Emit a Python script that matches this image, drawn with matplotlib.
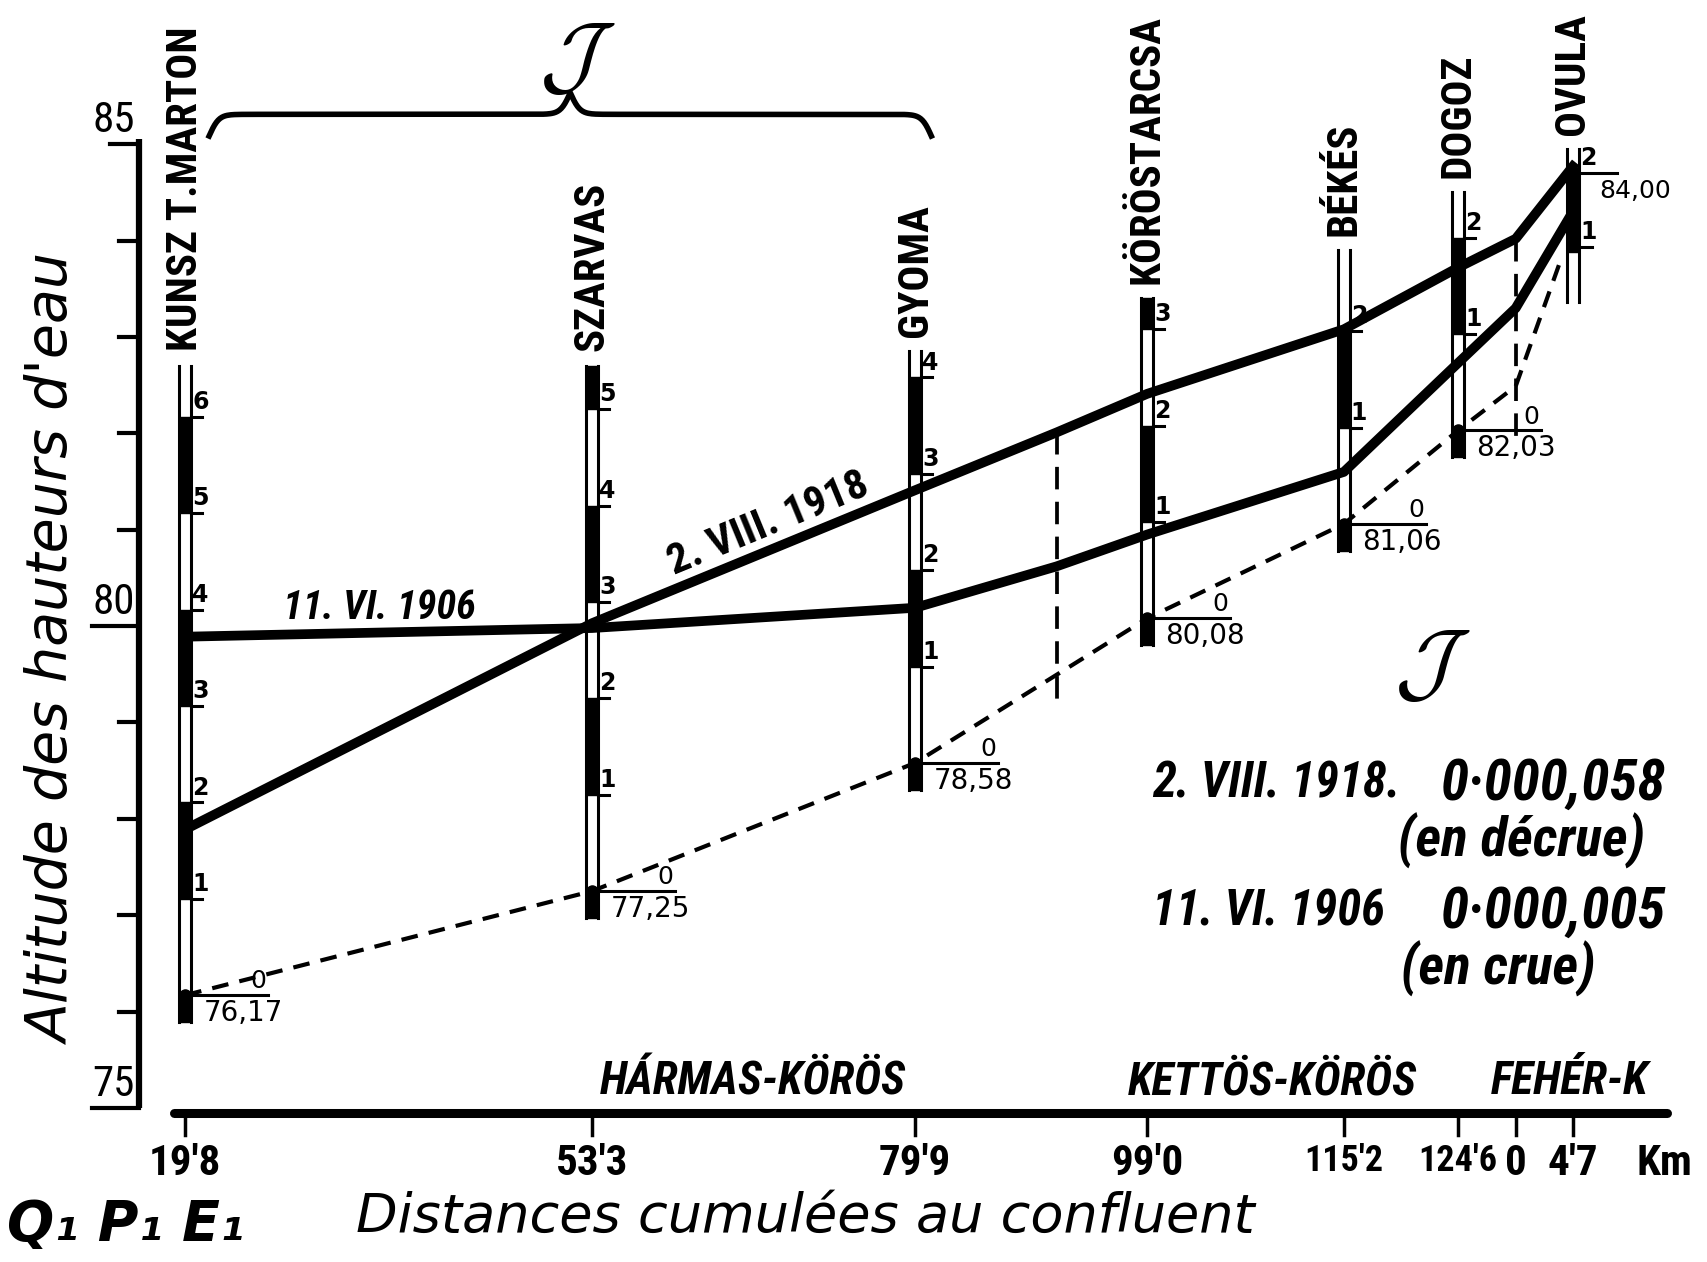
import numpy as np
import matplotlib
matplotlib.use('Agg')
import matplotlib.pyplot as plt
from matplotlib import font_manager as fm

plt.rcParams['font.family'] = ['DejaVu Sans']
plt.rcParams['mathtext.fontset'] = 'cm'

# look for a narrow sans for the lettering of the plate
_names = {f.name for f in fm.fontManager.ttflist}
_narrow = [n for n in sorted(_names) if 'Narrow' in n or 'Condensed' in n]
_pref = ['Liberation Sans Narrow', 'Roboto Condensed', 'DejaVu Sans Condensed',
         'Open Sans Condensed', 'Noto Sans Condensed']
_pick = [n for n in _pref if n in _names] + _narrow
NARROW = [_pick[0], 'DejaVu Sans'] if _pick else ['DejaVu Sans']
NS = 1.0 if _pick else 0.8   # shrink text if no narrow face exists

# gauges along the Körös, distances cumulated from the confluence (km)
stations = ['KUNSZ T.MARTON', 'SZARVAS', 'GYOMA', 'KÖRÖSTARCSA', 'BÉKÉS', 'DOGOZ', 'OVULA']
station_km = [19.8, 53.3, 79.9, 99.0, 115.2, 124.6, 134.05]
gauge_zero = [76.17, 77.25, 78.58, 80.08, 81.06, 82.03]
zero_labels = ['76,17', '77,25', '78,58', '80,08', '81,06', '82,03']
gauge_marks = [6, 5, 4, 3, 2, 2]
gauge_top = [82.7, 82.7, 82.85, 83.4, 83.9, 84.5]
# Ovula gauge (Fehér-Körös), drawn apart
ovula_bottom, ovula_top = 83.36, 84.95
ovula_marks = [83.93, 84.70]
ovula_ref = '84,00'

# water surface profiles
profile_km = [19.8, 53.3, 79.9, 91.55, 99.0, 115.2, 124.6, 129.35, 134.05]
level_1918 = [77.89, 80.03, 81.41, 82.01, 82.41, 83.08, 83.72, 84.02, 84.77]
level_1906 = [79.89, 79.98, 80.19, 80.62, 80.95, 81.60, 82.73, 83.30, 84.30]
# line through the gauge zeros
zero_km = [19.8, 53.3, 79.9, 99.0, 115.2, 124.6, 129.35, 133.2]
zero_line = [76.17, 77.25, 78.58, 80.08, 81.06, 82.03, 82.49, 83.85]
# vertical dashed separations
split_km = [91.55, 129.35]
split_top = [82.01, 84.02]
split_bottom = [79.18, 81.97]

xtick_km = [19.8, 53.3, 79.9, 99.0, 115.2, 124.6, 129.35, 134.05]
xtick_labels = ["19'8", "53'3", "79'9", "99'0", "115'2", "124'6", "0", "4'7"]
rivers = ['HÁRMAS-KÖRÖS', 'KETTÖS-KÖRÖS', 'FEHÉR-K']
river_km = [66.5, 109.3, 133.8]
yticks = list(range(75, 86))
ylabels = {75: '75', 80: '80', 85: '85'}

slopes = [('2. VIII. 1918.', '0·000,058', '(en décrue)'),
          ('11. VI. 1906', '0·000,005', '(en crue)')]


def px(x, y):
    # position read on the picture -> data coordinates
    return 19.8 + (x - 170) / 11.15, 80 - (y - 575) / 88.5


fig = plt.figure(figsize=(17.08, 12.62), dpi=100)
ax = fig.add_axes([0, 0, 1, 1])
ax.set_xlim(px(0, 0)[0], px(1568, 0)[0])
ax.set_ylim(px(0, 1159)[1], px(0, 0)[1])
ax.axis('off')

# y axis
yx = px(128, 0)[0]
ax.plot([yx, yx], [75.0, 85.05], color='k', lw=4.5, solid_capstyle='butt')
for t in yticks:
    ln = 3.9 if t in (80, 75) else (2.4 if t == 85 else 1.7)
    ax.plot([yx - ln, yx], [t, t], color='k', lw=3)
    if t in ylabels:
        ax.text(yx - 0.4, t + 0.03, ylabels[t], ha='right', va='bottom',
                fontsize=31 * NS, family=NARROW)
ax.text(*px(50, 597), "Altitude des hauteurs d'eau", rotation=90, ha='center',
        va='center', fontsize=41, style='italic')

# x axis
ax.plot([px(160, 0)[0], px(1530, 0)[0]], [74.95, 74.95], color='k', lw=6.5,
        solid_capstyle='round')
for k, lab in zip(xtick_km, xtick_labels):
    ax.plot([k, k], [74.95, 74.72], color='k', lw=2.5)
    ax.text(k, 74.64, lab, ha='center', va='top', fontsize=(26 if len(lab) > 4 else 31) * NS,
            weight='bold', family=NARROW)
ax.text(px(1528, 0)[0], 74.64, 'Km', ha='center', va='top', fontsize=31 * NS,
        weight='bold', family=NARROW)
for r, k in zip(rivers, river_km):
    ax.text(k, 75.05, r, ha='center', va='bottom', fontsize=33 * NS, weight='bold',
            style='italic', family=NARROW)
ax.text(*px(739, 1118), 'Distances cumulées au confluent', ha='center',
        va='center', fontsize=39, style='italic')
ax.text(*px(115, 1125), 'Q₁ P₁ E₁', ha='center', va='center', fontsize=40,
        weight='bold', style='italic')

# gauges
GW = 0.95
for i in range(6):
    x, z, top, n = station_km[i], gauge_zero[i], gauge_top[i], gauge_marks[i]
    bot = z - 0.28
    ax.fill_between([x - GW / 2, x + GW / 2], bot, top, color='white', zorder=2)
    ax.fill_between([x - GW / 2, x + GW / 2], bot, z, color='k', zorder=2)
    for m in range(1, n + 1, 2):
        hi = min(z + m + 1, top)
        ax.fill_between([x - GW / 2, x + GW / 2], z + m, hi, color='k', zorder=2)
    for s in (-1, 1):
        ax.plot([x + s * GW / 2] * 2, [bot, top], color='k', lw=2.2, zorder=2)
    for m in range(1, n + 1):
        ax.plot([x + GW / 2, x + GW / 2 + 0.9], [z + m] * 2, color='k', lw=2.2, zorder=2)
        ax.text(x + GW / 2 + 0.1, z + m + 0.03, str(m), ha='left', va='bottom',
                fontsize=17, weight='bold', zorder=4)
    ax.plot([x, x + 6.8], [z, z], color='k', lw=2.2, zorder=2)
    ax.text(x + 6.0, z + 0.02, '0', ha='center', va='bottom', fontsize=18, zorder=4)
    ax.text(x + 1.5, z - 0.04, zero_labels[i], ha='left', va='top', fontsize=20, zorder=4)
    ax.text(x, top + 0.15, stations[i], rotation=90, ha='center', va='bottom',
            fontsize=31 * NS, weight='bold', family=NARROW)

# Ovula
xo = station_km[6]
ax.fill_between([xo - GW / 2, xo + GW / 2], ovula_bottom, ovula_top, color='white', zorder=2)
ax.fill_between([xo - GW / 2, xo + GW / 2], ovula_marks[0] - 0.05, ovula_marks[1] + 0.05,
                color='k', zorder=2)
for s in (-1, 1):
    ax.plot([xo + s * GW / 2] * 2, [ovula_bottom, ovula_top], color='k', lw=2.2, zorder=2)
ax.plot([xo, xo + 3.6], [ovula_marks[1]] * 2, color='k', lw=2.2, zorder=2)
ax.plot([xo, xo + 1.6], [ovula_marks[0]] * 2, color='k', lw=2.2, zorder=2)
for m, yv in enumerate(ovula_marks, start=1):
    ax.text(xo + GW / 2 + 0.15, yv + 0.03, str(m), ha='left', va='bottom',
            fontsize=17, weight='bold', zorder=4)
ax.text(xo + 2.2, ovula_marks[1] - 0.06, ovula_ref, ha='left', va='top', fontsize=18)
ax.text(xo, ovula_top + 0.15, stations[6], rotation=90, ha='center', va='bottom',
        fontsize=31 * NS, weight='bold', family=NARROW)

# profiles
ax.plot(profile_km, level_1918, color='k', lw=7, solid_joinstyle='round', zorder=3)
ax.plot(profile_km, level_1906, color='k', lw=7, solid_joinstyle='round', zorder=3)
ax.plot(zero_km, zero_line, color='k', lw=3, linestyle=(0, (4, 2.7)), zorder=3)
ax.plot(zero_km[:6], zero_line[:6], 'o', color='k', ms=8, zorder=3)
for k, t, b in zip(split_km, split_top, split_bottom):
    ax.plot([k, k], [t, b], color='k', lw=2.7, linestyle=(0, (6, 3.3)), zorder=3)

# line labels
ax.text(*px(348, 558), '11. VI. 1906', ha='center', va='center', fontsize=29 * NS,
        weight='bold', style='italic', family=NARROW)
p0 = ax.transData.transform((profile_km[1], level_1918[1]))
p1 = ax.transData.transform((profile_km[2], level_1918[2]))
ang = np.degrees(np.arctan2(p1[1] - p0[1], p1[0] - p0[0]))
ax.text(*px(705, 481), '2. VIII. 1918', rotation=ang, ha='center', va='center',
        fontsize=31 * NS, weight='bold', family=NARROW, rotation_mode='anchor')

# brace over the Hármas-Körös reach
bx0, bx1 = px(192, 0)[0], px(855, 0)[0]
xs = np.linspace(bx0, bx1, 401)
half = xs[:201]
yh = 1 / (1 + np.exp(-2.5 * (half - half[0]))) + 1 / (1 + np.exp(-2.5 * (half - half[-1])))
yb = np.concatenate([yh, yh[-2::-1]])
ax.plot(xs, px(0, 105)[1] + (yb - 1) * 0.45, color='k', lw=4)
ax.text(*px(530, 55), r'$\mathcal{J}$', ha='center', va='center', fontsize=64)
ax.text(*px(1315, 612), r'$\mathcal{J}$', ha='center', va='center', fontsize=64)

# slopes
for j, (date, val, note) in enumerate(slopes):
    y0 = [720, 838][j]
    ax.text(*px(1058, y0), date, ha='left', va='center', fontsize=35 * NS,
            weight='bold', style='italic', family=NARROW)
    ax.text(*px(1530, y0), val, ha='right', va='center', fontsize=41 * NS,
            weight='bold', style='italic', family=NARROW)
    ax.text(*px(1510 - 45 * j, y0 + 52), note, ha='right', va='center', fontsize=40 * NS,
            weight='bold', style='italic', family=NARROW)

fig.savefig('out.png', dpi=100, facecolor='white')
